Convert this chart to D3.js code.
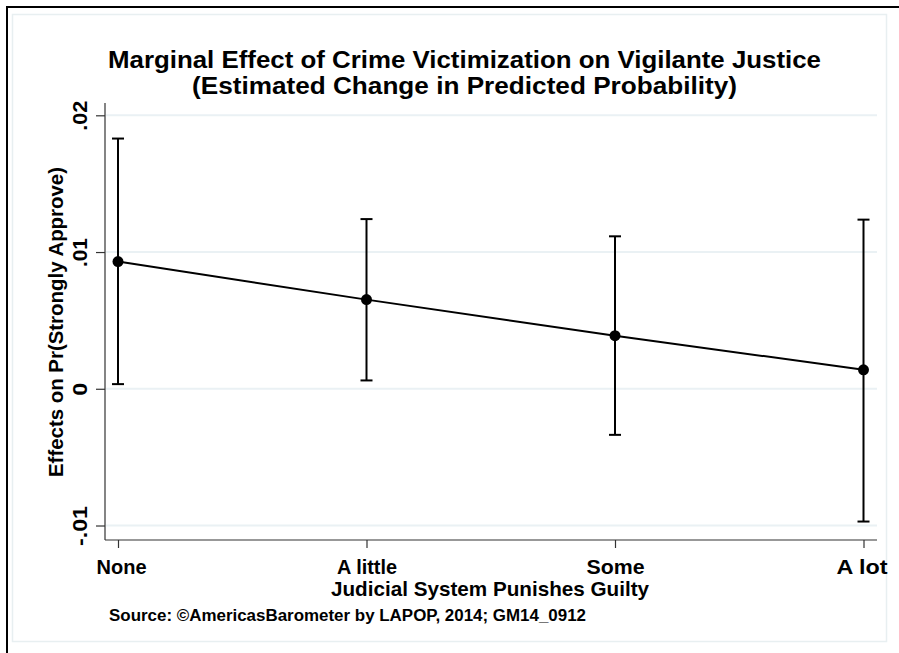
<!DOCTYPE html>
<html>
<head>
<meta charset="utf-8">
<script src="https://cdn.jsdelivr.net/npm/d3@7"></script>
<style>
  html, body { margin: 0; padding: 0; background: #fff; }
  svg { display: block; font-family: "Liberation Sans Narrow", "Liberation Sans", Arial, sans-serif; }
</style>
</head>
<body>
<svg id="chart" width="899" height="653"></svg>
<script>
const categories = ["None", "A little", "Some", "A lot"];
const estimates  = [0.0093, 0.00652, 0.00388, 0.00139];
const lowerCI    = [0.00034, 0.00061, -0.00337, -0.00971];
const upperCI    = [0.0183, 0.01241, 0.01115, 0.01237];
const yTicks     = [-0.01, 0, 0.01, 0.02];
const yTickLabels = ["-.01", "0", ".01", ".02"];

const FONT = "Liberation Sans Narrow, Liberation Sans, Arial, sans-serif";
const svg = d3.select("#chart");

// frames
svg.append("rect").attr("x", 7).attr("y", 7).attr("width", 1000).attr("height", 1000)
  .attr("fill", "none").attr("stroke", "#000").attr("stroke-width", 2);
svg.append("rect").attr("x", 12.5).attr("y", 14.5).attr("width", 874).attr("height", 627)
  .attr("fill", "none").attr("stroke", "#e8eff1").attr("stroke-width", 1.5);

const plotL = 105, plotR = 877, plotT = 103, plotB = 540;

const y = d3.scaleLinear().domain([-0.01106, 0.0209]).range([plotB, plotT]);
const x = d3.scalePoint().domain(categories).range([118, 863.5]);

// gridlines
svg.append("g").selectAll("line").data(yTicks).join("line")
  .attr("x1", plotL + 1).attr("x2", plotR)
  .attr("y1", d => y(d)).attr("y2", d => y(d))
  .attr("stroke", "#eaf1f4").attr("stroke-width", 2);

function fitText(sel, w) {
  sel.attr("textLength", w).attr("lengthAdjust", "spacingAndGlyphs");
}

// axes
const yTickWidths = [40, 13, 29, 30];
const yAxis = d3.axisLeft(y).tickValues(yTicks).tickFormat((d, i) => yTickLabels[i])
  .tickSize(9).tickSizeOuter(0).tickPadding(6);
const gy = svg.append("g").attr("transform", `translate(${plotL},0)`).call(yAxis);
gy.select(".domain").remove();
gy.selectAll(".tick line").attr("stroke", "#333").attr("stroke-width", 1.2);
gy.selectAll(".tick text")
  .attr("transform", "rotate(-90)")
  .attr("x", 0).attr("dy", 0)
  .attr("y", -18)
  .attr("text-anchor", "middle")
  .attr("font-size", 21).attr("font-weight", "bold").attr("fill", "#000")
  .attr("font-family", FONT)
  .each(function (d, i) { fitText(d3.select(this), yTickWidths[i]); });

const xTickWidths = [50, 60, 58, 51];
const xAxis = d3.axisBottom(x).tickSize(8).tickSizeOuter(0).tickPadding(8);
const gx = svg.append("g").attr("transform", `translate(0,${plotB})`).call(xAxis);
gx.select(".domain").remove();
gx.selectAll(".tick line").attr("stroke", "#333").attr("stroke-width", 1.2);
gx.selectAll(".tick text")
  .attr("y", 34).attr("dy", 0)
  .attr("font-size", 21).attr("font-weight", "bold").attr("fill", "#000")
  .attr("font-family", FONT)
  .attr("text-anchor", "middle")
  .each(function (d, i) { fitText(d3.select(this), xTickWidths[i]); });
gx.selectAll(".tick").filter((d, i) => i === 0).select("text").attr("x", 3);
gx.selectAll(".tick").filter((d, i) => i === categories.length - 1).select("text").attr("x", -2);

svg.append("line").attr("x1", plotL).attr("x2", plotL).attr("y1", plotT).attr("y2", plotB)
  .attr("stroke", "#333").attr("stroke-width", 1.2);
svg.append("line").attr("x1", plotL).attr("x2", plotR).attr("y1", plotB).attr("y2", plotB)
  .attr("stroke", "#333").attr("stroke-width", 1.2);

// data
const data = categories.map((c, i) => ({ c, est: estimates[i], lo: lowerCI[i], hi: upperCI[i] }));

const bars = svg.append("g");
bars.selectAll("line.v").data(data).join("line").attr("class", "v")
  .attr("x1", d => x(d.c)).attr("x2", d => x(d.c))
  .attr("y1", d => y(d.lo)).attr("y2", d => y(d.hi))
  .attr("stroke", "#000").attr("stroke-width", 2);
bars.selectAll("line.lo").data(data).join("line").attr("class", "lo")
  .attr("x1", d => x(d.c) - 6).attr("x2", d => x(d.c) + 6)
  .attr("y1", d => y(d.lo)).attr("y2", d => y(d.lo))
  .attr("stroke", "#000").attr("stroke-width", 2);
bars.selectAll("line.hi").data(data).join("line").attr("class", "hi")
  .attr("x1", d => x(d.c) - 6).attr("x2", d => x(d.c) + 6)
  .attr("y1", d => y(d.hi)).attr("y2", d => y(d.hi))
  .attr("stroke", "#000").attr("stroke-width", 2);

svg.append("path").datum(data)
  .attr("d", d3.line().x(d => x(d.c)).y(d => y(d.est)))
  .attr("fill", "none").attr("stroke", "#000").attr("stroke-width", 2);

svg.append("g").selectAll("circle").data(data).join("circle")
  .attr("cx", d => x(d.c)).attr("cy", d => y(d.est)).attr("r", 5.5).attr("fill", "#000");

// titles
const t1 = svg.append("text").attr("x", 464.5).attr("y", 68).attr("text-anchor", "middle")
  .attr("font-size", 23).attr("font-weight", "bold")
  .text("Marginal Effect of Crime Victimization on Vigilante Justice");
fitText(t1, 713);
const t2 = svg.append("text").attr("x", 464.5).attr("y", 94).attr("text-anchor", "middle")
  .attr("font-size", 23).attr("font-weight", "bold")
  .text("(Estimated Change in Predicted Probability)");
fitText(t2, 545);

const yl = svg.append("text").attr("transform", "translate(63,322) rotate(-90)")
  .attr("text-anchor", "middle").attr("font-size", 21).attr("font-weight", "bold")
  .text("Effects on Pr(Strongly Approve)");
fitText(yl, 310);

const xl = svg.append("text").attr("x", 490).attr("y", 596).attr("text-anchor", "middle")
  .attr("font-size", 21).attr("font-weight", "bold")
  .text("Judicial System Punishes Guilty");
fitText(xl, 318);

const src = svg.append("text").attr("x", 109).attr("y", 621)
  .attr("font-size", 16).attr("font-weight", "bold")
  .text("Source: \u00A9AmericasBarometer by LAPOP, 2014; GM14_0912");
fitText(src, 477);
</script>
</body>
</html>
